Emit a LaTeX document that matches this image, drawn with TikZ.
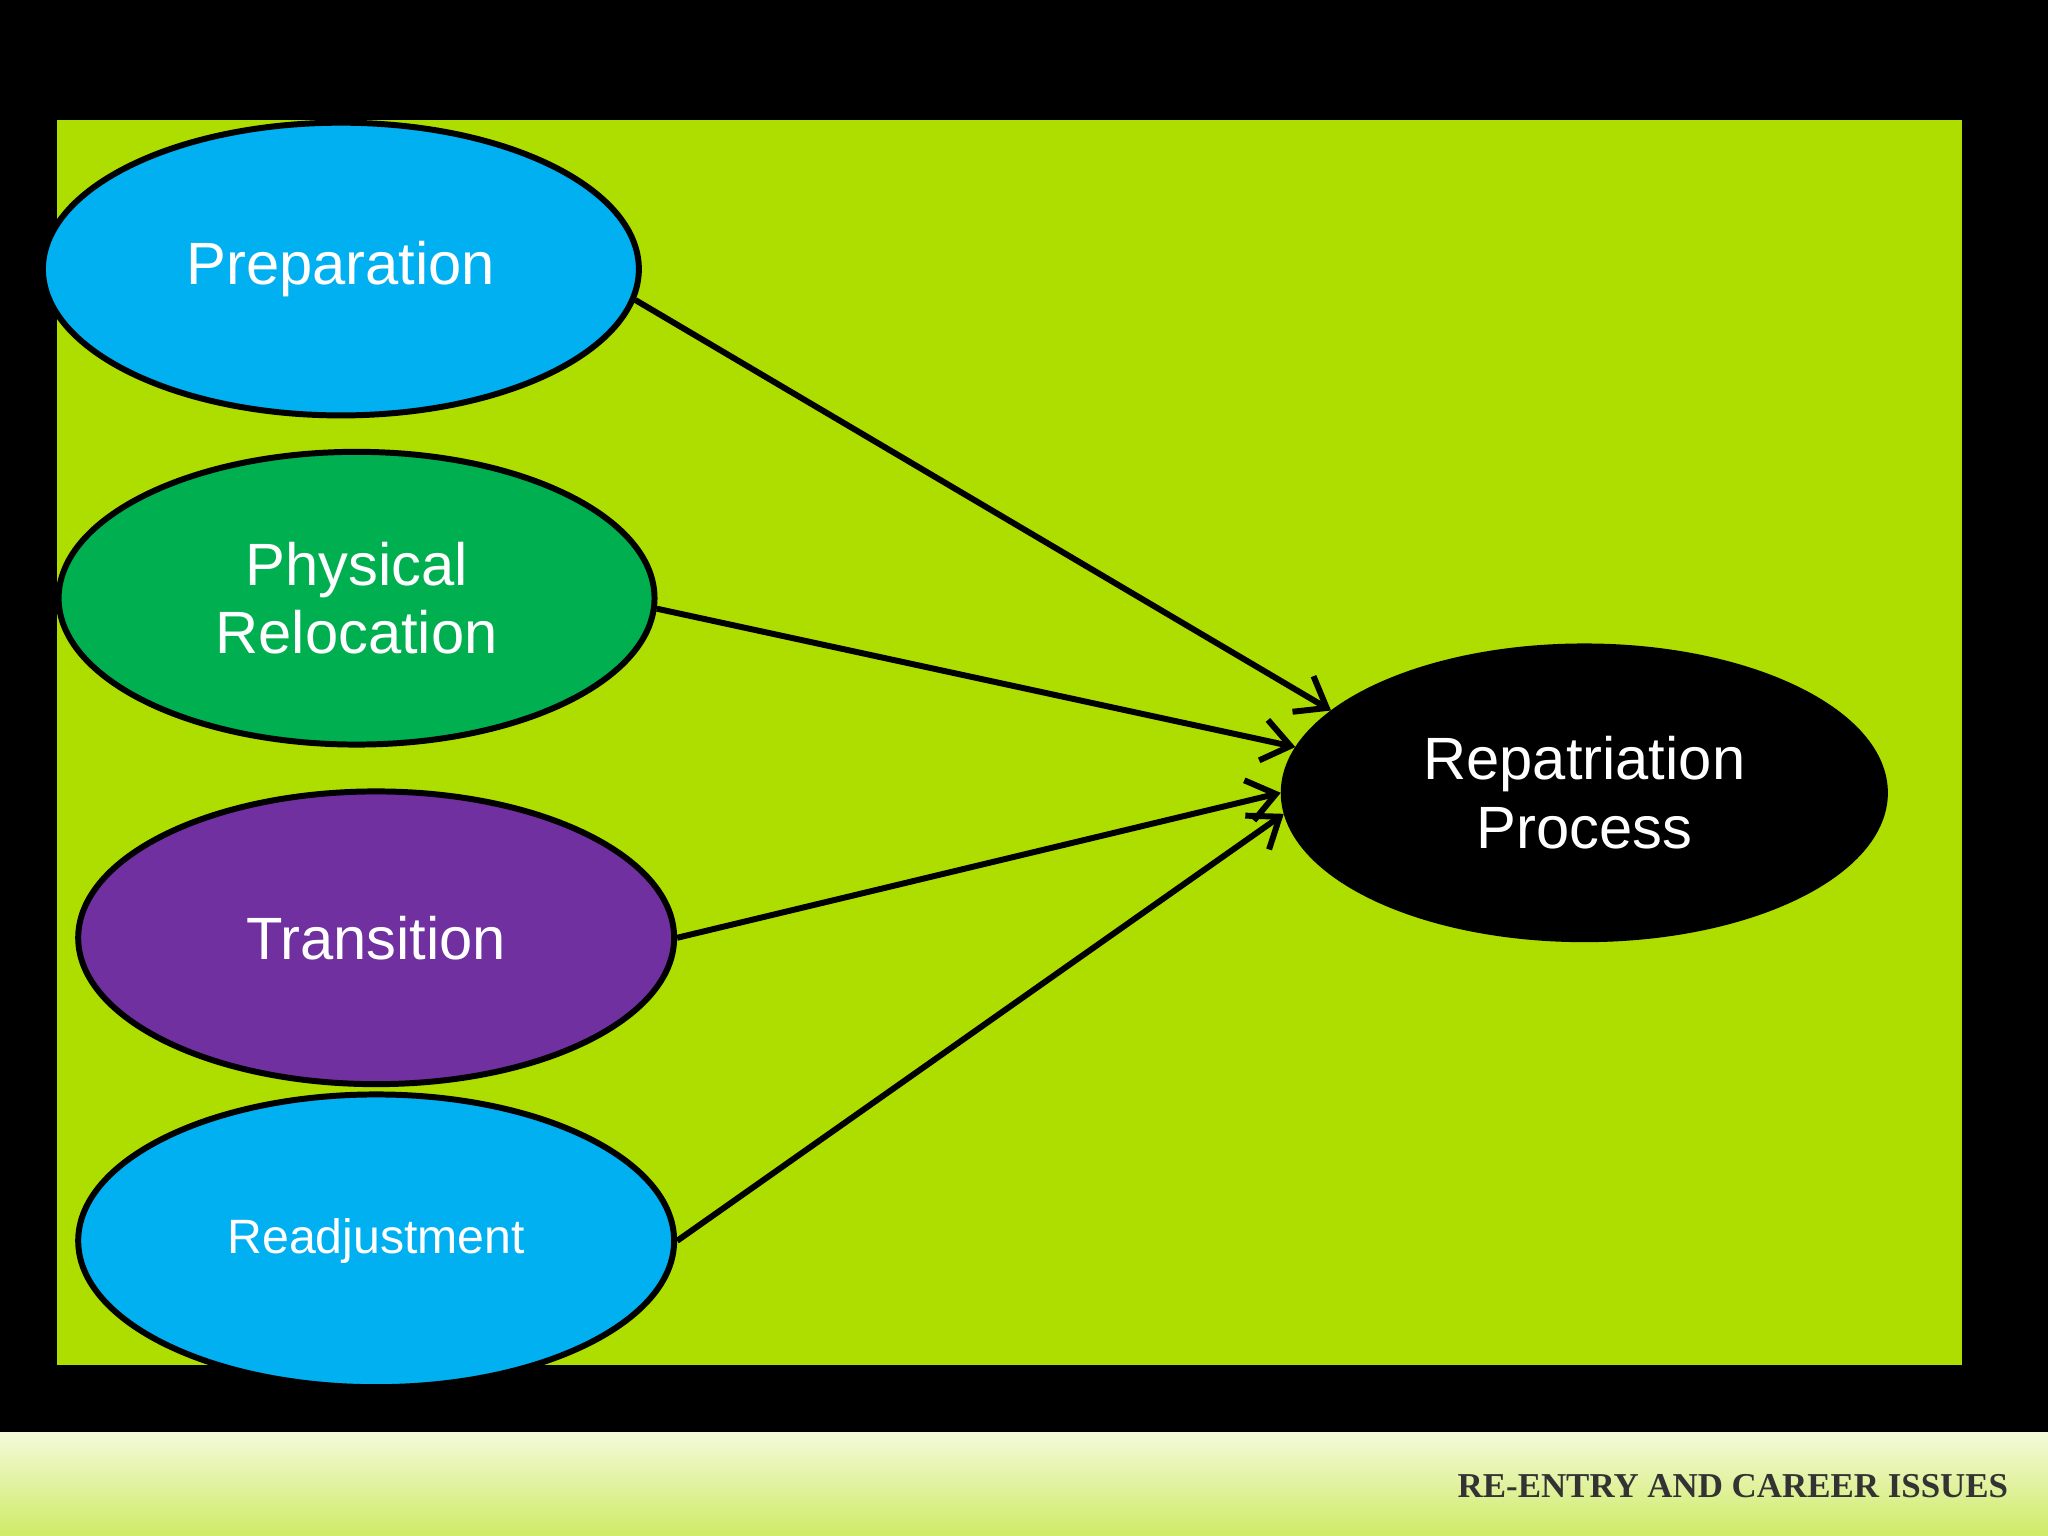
\documentclass[tikz,border=0pt]{standalone}
\usepackage{fontspec}
\setmainfont{Liberation Sans}
\newfontfamily\footfont{Liberation Serif}
\usetikzlibrary{shapes.geometric,arrows.meta}
\definecolor{slidegreen}{HTML}{AEDD00}
\definecolor{stepblue}{HTML}{00B0F0}
\definecolor{stepgreen}{HTML}{00B050}
\definecolor{steppurple}{HTML}{7030A0}
\begin{document}
\begin{tikzpicture}[x=0.01cm,y=-0.01cm,
  stage/.style={draw,ellipse,line width=1.3pt,minimum width=4.56cm,minimum height=2.24cm,
    text=white,align=center,font=\fontsize{13}{15}\selectfont},
  link/.style={line width=1.3pt,-{Straight Barb[length=6pt,width=9pt]}}]
  \fill[black] (0,0) rectangle (1568,1176);
  \useasboundingbox (0,0) rectangle (1568,1176);
  \fill[slidegreen] (44,92) rectangle (1502,1045);
  \shade[top color=white!85!slidegreen,bottom color=slidegreen!60!white] (0,1097) rectangle (1568,1176);

  \node (prep) at (261,206) [stage,fill=stepblue] {Preparation};
  \node (phys) at (273,458) [stage,fill=stepgreen] {Physical\\Relocation};
  \node (trans) at (288,718) [stage,fill=steppurple] {Transition};
  \node (readj) at (288,950) [stage,fill=stepblue,font=\fontsize{10.5}{13}\selectfont] {Readjustment};
  \node (rep) at (1213,607) [stage,fill=black,minimum width=4.6cm] {Repatriation\\Process};

  \draw[link] (prep.-6) -- (rep.162);
  \draw[link] (phys.-2) -- (rep.171);
  \draw[link] (trans.0) -- (rep.180);
  \draw[link] (readj.0) -- (rep.184);

  \node (foot) at (1550,1138) [anchor=east,text=black!80,font=\footfont\bfseries\fontsize{7.6}{9}\selectfont] {RE-ENTRY AND CAREER ISSUES};
\end{tikzpicture}
\end{document}
